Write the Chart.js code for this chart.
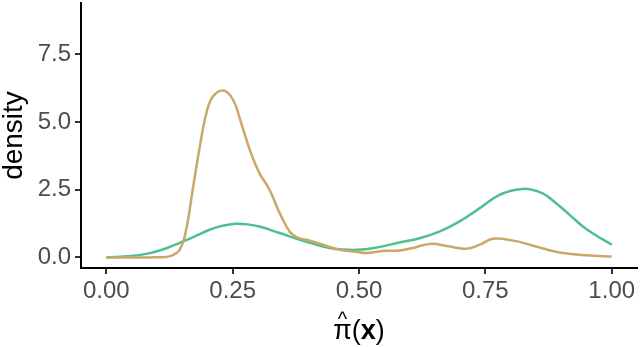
<!DOCTYPE html>
<html>
<head>
<meta charset="utf-8">
<script src="https://cdn.jsdelivr.net/npm/chart.js@4"></script>
<style>
  html, body { margin: 0; padding: 0; background: #fff; }
  #wrap { width: 640px; height: 347px; position: relative; }
</style>
</head>
<body>
<div id="wrap"><canvas id="chart"></canvas></div>
<script>
// Densidad estimada por grupo
const tanX = [0.00, 0.05, 0.10, 0.125, 0.145, 0.158, 0.171, 0.185, 0.198, 0.211, 0.232, 0.251, 0.267, 0.284, 0.303, 0.323, 0.343, 0.363, 0.38, 0.396, 0.429, 0.462, 0.49, 0.515, 0.545, 0.58, 0.607, 0.64, 0.68, 0.712, 0.739, 0.765, 0.805, 0.838, 0.87, 0.904, 0.95, 1.00];
const tanY = [0.00, 0.00, 0.01, 0.04, 0.28, 1.02, 2.50, 4.09, 5.32, 5.94, 6.16, 5.81, 4.96, 3.97, 3.11, 2.50, 1.64, 0.95, 0.72, 0.65, 0.47, 0.28, 0.22, 0.16, 0.24, 0.26, 0.35, 0.50, 0.40, 0.32, 0.47, 0.69, 0.62, 0.47, 0.30, 0.16, 0.08, 0.03];

const greenX = [0.00, 0.05, 0.086, 0.12, 0.152, 0.18, 0.204, 0.23, 0.257, 0.28, 0.303, 0.343, 0.383, 0.41, 0.442, 0.47, 0.495, 0.53, 0.58, 0.62, 0.66, 0.699, 0.739, 0.778, 0.818, 0.838, 0.865, 0.89, 0.915, 0.943, 0.97, 1.00];
const greenY = [0.00, 0.05, 0.16, 0.35, 0.59, 0.82, 1.02, 1.17, 1.24, 1.22, 1.14, 0.90, 0.65, 0.50, 0.35, 0.29, 0.28, 0.35, 0.55, 0.71, 0.96, 1.33, 1.82, 2.31, 2.52, 2.52, 2.35, 2.00, 1.60, 1.14, 0.80, 0.47];

const xTicks = [0, 0.25, 0.5, 0.75, 1];
const xTickLabels = ['0.00', '0.25', '0.50', '0.75', '1.00'];
const yTicks = [0, 2.5, 5, 7.5];
const yTickLabels = ['0.0', '2.5', '5.0', '7.5'];

const COLORS = {
    tan: '#C9A86A',
    green: '#50BF8E',
    axis: '#000000',
    tickText: '#4D4D4D'
};

const FONT = '"Liberation Sans", Arial, Helvetica, sans-serif';

function toPoints(xs, ys) {
    return xs.map((x, i) => ({ x: x, y: ys[i] }));
}

// Títulos de ejes dibujados a mano (pi con sombrero y x en negrita)
const axisTitles = {
    id: 'axisTitles',
    afterDraw(chart) {
        const ctx = chart.ctx;
        const area = chart.chartArea;
        ctx.save();
        ctx.fillStyle = '#000';

        // eje y
        ctx.font = '28px ' + FONT;
        ctx.textAlign = 'center';
        ctx.textBaseline = 'middle';
        ctx.translate(14, (area.top + area.bottom) / 2);
        ctx.rotate(-Math.PI / 2);
        ctx.fillText('density', 0, 0);
        ctx.setTransform(1, 0, 0, 1, 0, 0);

        // eje x
        const cx = chart.scales.x.getPixelForValue(0.5);
        const base = 339;
        ctx.textAlign = 'left';
        ctx.textBaseline = 'alphabetic';
        const pNormal = '27px ' + FONT;
        const pBold = 'bold 27px ' + FONT;
        ctx.font = pNormal;
        const wPi = ctx.measureText('π').width;
        const wOpen = ctx.measureText('(').width;
        const wClose = ctx.measureText(')').width;
        ctx.font = pBold;
        const wX = ctx.measureText('x').width;
        let x0 = cx - (wPi + wOpen + wX + wClose) / 2;

        ctx.font = pNormal;
        ctx.fillText('π', x0, base);
        ctx.font = '20px ' + FONT;
        ctx.textAlign = 'center';
        ctx.fillText('^', x0 + wPi / 2, base - 13);
        ctx.textAlign = 'left';
        ctx.font = pNormal;
        ctx.fillText('(', x0 + wPi, base);
        ctx.font = pBold;
        ctx.fillText('x', x0 + wPi + wOpen, base);
        ctx.font = pNormal;
        ctx.fillText(')', x0 + wPi + wOpen + wX, base);
        ctx.restore();
    }
};

new Chart(document.getElementById('chart'), {
    type: 'line',
    data: {
        datasets: [
            {
                label: 'A',
                data: toPoints(tanX, tanY),
                borderColor: COLORS.tan,
                borderWidth: 2.5,
                pointRadius: 0,
                fill: false,
                tension: 0.4
            },
            {
                label: 'B',
                data: toPoints(greenX, greenY),
                borderColor: COLORS.green,
                borderWidth: 2.5,
                pointRadius: 0,
                fill: false,
                tension: 0.4
            }
        ]
    },
    options: {
        responsive: true,
        maintainAspectRatio: false,
        animation: false,
        layout: { padding: { top: 3, right: 3, left: 0, bottom: 0 } },
        plugins: {
            legend: { display: false },
            tooltip: { enabled: false }
        },
        scales: {
            x: {
                type: 'linear',
                min: -0.05,
                max: 1.05,
                afterBuildTicks: scale => { scale.ticks = xTicks.map(v => ({ value: v })); },
                afterFit: scale => {
                    scale.height = 79;
                    scale.paddingLeft = 0;
                    scale.paddingRight = 0;
                },
                ticks: {
                    callback: (v) => xTickLabels[xTicks.indexOf(v)],
                    color: COLORS.tickText,
                    font: { family: FONT, size: 24 },
                    padding: 3,
                    maxRotation: 0
                },
                grid: { display: true, drawOnChartArea: false, drawTicks: true, tickLength: 6, color: '#333', lineWidth: 2 },
                border: { display: true, color: COLORS.axis, width: 2 }
            },
            y: {
                type: 'linear',
                min: -0.39,
                max: 9.39,
                afterBuildTicks: scale => { scale.ticks = yTicks.map(v => ({ value: v })); },
                afterFit: scale => {
                    scale.width = 81;
                    scale.paddingTop = 0;
                    scale.paddingBottom = 0;
                },
                ticks: {
                    callback: (v) => yTickLabels[yTicks.indexOf(v)],
                    color: COLORS.tickText,
                    font: { family: FONT, size: 24 },
                    padding: 4
                },
                grid: { display: true, drawOnChartArea: false, drawTicks: true, tickLength: 6, color: '#333', lineWidth: 2 },
                border: { display: true, color: COLORS.axis, width: 2 }
            }
        }
    },
    plugins: [axisTitles]
});
</script>
</body>
</html>
